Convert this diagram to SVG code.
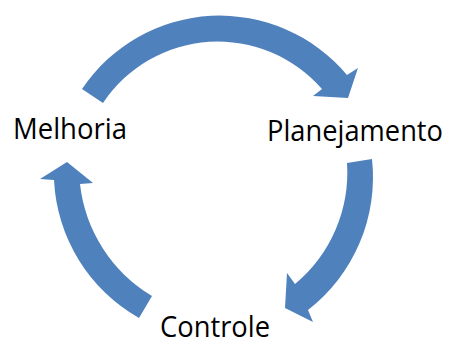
<svg xmlns="http://www.w3.org/2000/svg" width="449" height="338" viewBox="0 0 449 338">
  <style>
    .arrow { fill: #4F81BD; stroke: none; }
    .label { font-family: "Open Sans", "Liberation Sans", sans-serif; font-size: 29px; fill: #000000; }
  </style>
  <rect x="0" y="0" width="449" height="338" fill="#FFFFFF"/>
  <g id="connectors">
    <path id="arrow-melhoria-planejamento" class="arrow" d="M 103,103 L 82,89 A 166 166 0 0 1 347,75 L 358,68 L 348,98 L 313,96 L 322,89 A 138 138 0 0 0 103,103 Z"/>
    <path id="arrow-planejamento-controle" class="arrow" d="M 372,159 A 168 168 0 0 1 308,310 L 313,322 L 285,308 L 287,273 L 295,284 A 145 145 0 0 0 347,163 Z"/>
    <path id="arrow-controle-melhoria" class="arrow" d="M 139,318 A 168 168 0 0 1 54,180 L 40,179 L 67,162 L 93,183 L 80,184 A 150 150 0 0 0 152,296 Z"/>
  </g>
  <g id="node-melhoria">
    <text class="label" x="13" y="138.5" textLength="114" lengthAdjust="spacingAndGlyphs">Melhoria</text>
  </g>
  <g id="node-planejamento">
    <text class="label" x="267" y="140.5" textLength="176" lengthAdjust="spacingAndGlyphs">Planejamento</text>
  </g>
  <g id="node-controle">
    <text class="label" x="160" y="337" textLength="110" lengthAdjust="spacingAndGlyphs">Controle</text>
  </g>
</svg>
